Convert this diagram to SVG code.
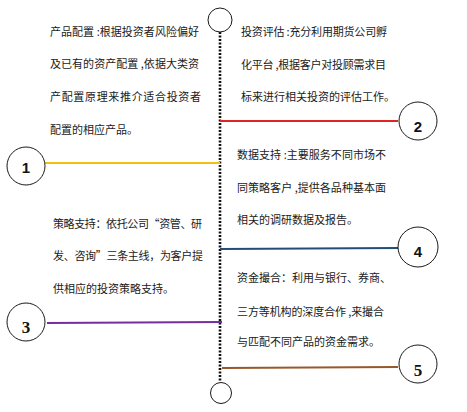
<svg xmlns="http://www.w3.org/2000/svg" width="467" height="412" viewBox="0 0 467 412">
<style>
.t{font-family:"Noto Sans CJK SC","Noto Sans",sans-serif;font-size:11px;fill:#1a1a1a}
.c{fill:#fff;stroke:#1a1a1a;stroke-width:1}
.n{font-family:"Liberation Sans",Arial,sans-serif;font-weight:bold;font-size:15px;fill:#111;text-anchor:middle}
.ns{font-family:"Liberation Serif","Times New Roman",serif;font-weight:bold;font-size:17px;fill:#111;text-anchor:middle}
.ln{fill:none;stroke-width:2.2}
</style>
<rect width="467" height="412" fill="#fff"/>
<g id="connectors">
<line x1="220" y1="32" x2="220" y2="382" stroke="#111" stroke-width="2.6" stroke-dasharray="2 1.5"/>
<line class="ln" x1="220" y1="121" x2="398" y2="121" stroke="#e02424"/>
<line class="ln" x1="45" y1="163" x2="220" y2="163" stroke="#f0c010"/>
<line class="ln" x1="220" y1="249" x2="398" y2="248" stroke="#1f4e79"/>
<line class="ln" x1="47" y1="323" x2="222" y2="322" stroke="#7030a0"/>
<line class="ln" x1="222" y1="368" x2="398" y2="367" stroke="#98582a"/>
</g>
<g id="top-end"><circle class="c" cx="220" cy="20" r="12"/></g>
<g id="bottom-end"><circle class="c" cx="221" cy="393" r="10.5"/></g>
<g id="node1"><circle class="c" cx="26" cy="166" r="19"/><text class="n" x="26" y="173">1</text></g>
<g id="node2"><circle class="c" cx="418" cy="121" r="19"/><text class="n" x="418" y="132">2</text></g>
<g id="node3"><circle class="c" cx="26" cy="322" r="19"/><text class="ns" x="26" y="333">3</text></g>
<g id="node4"><circle class="c" cx="418" cy="247" r="20"/><text class="n" x="418" y="257">4</text></g>
<g id="node5"><circle class="c" cx="418" cy="364" r="19"/><text class="ns" x="418" y="376">5</text></g>
<g id="text1">
<text class="t" x="50" y="36" textLength="149" lengthAdjust="spacing">产品配置 :根据投资者风险偏好</text>
<text class="t" x="50" y="68" textLength="149" lengthAdjust="spacing">及已有的资产配置 ,依据大类资</text>
<text class="t" x="50" y="101" textLength="151" lengthAdjust="spacing">产配置原理来推介适合投资者</text>
<text class="t" x="50" y="134">配置的相应产品。</text>
</g>
<g id="text2">
<text class="t" x="241" y="36" textLength="146" lengthAdjust="spacing">投资评估 :充分利用期货公司孵</text>
<text class="t" x="241" y="69" textLength="145" lengthAdjust="spacing">化平台 ,根据客户对投顾需求目</text>
<text class="t" x="241" y="101">标来进行相关投资的评估工作。</text>
</g>
<g id="text4">
<text class="t" x="237" y="159" textLength="149" lengthAdjust="spacing">数据支持 :主要服务不同市场不</text>
<text class="t" x="237" y="192" textLength="149" lengthAdjust="spacing">同策略客户 ,提供各品种基本面</text>
<text class="t" x="237" y="224">相关的调研数据及报告。</text>
</g>
<g id="text3">
<text class="t" x="53" y="228" textLength="149" lengthAdjust="spacing">策略支持：依托公司“资管、研</text>
<text class="t" x="53" y="260" textLength="150" lengthAdjust="spacing">发、咨询”三条主线，为客户提</text>
<text class="t" x="53" y="293">供相应的投资策略支持。</text>
</g>
<g id="text5">
<text class="t" x="237" y="282">资金撮合：利用与银行、券商、</text>
<text class="t" x="237" y="316" textLength="147" lengthAdjust="spacing">三方等机构的深度合作 ,来撮合</text>
<text class="t" x="237" y="346">与匹配不同产品的资金需求。</text>
</g>
</svg>
